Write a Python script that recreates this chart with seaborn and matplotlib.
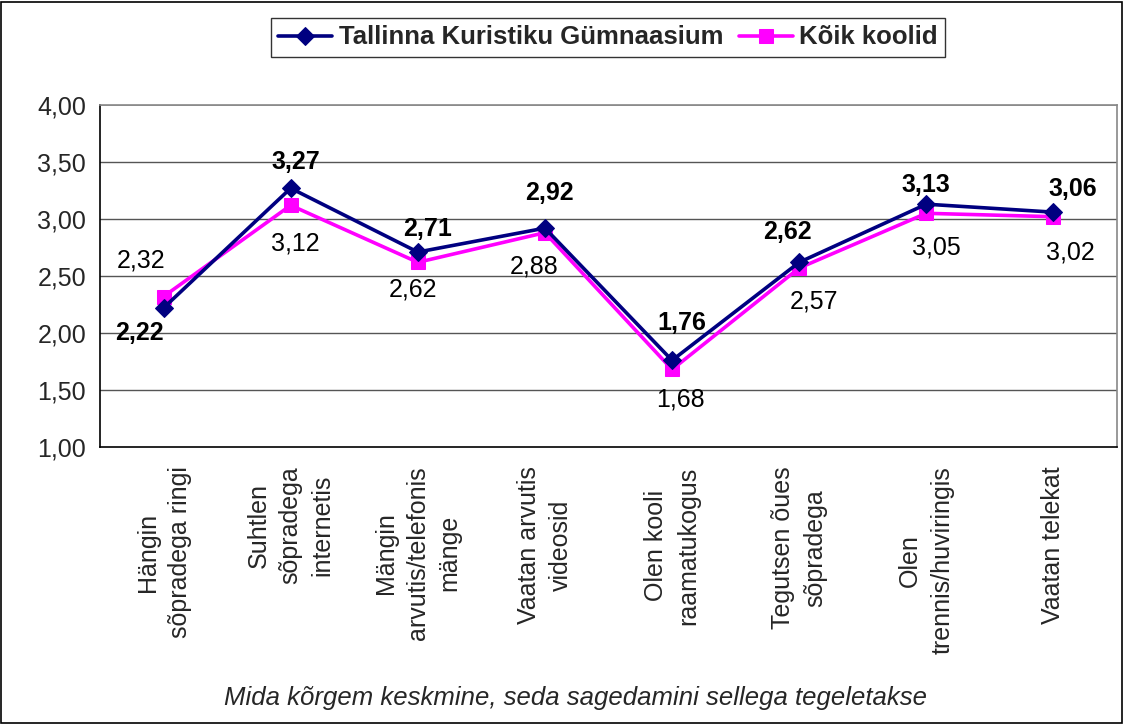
import matplotlib
matplotlib.use("Agg")
import matplotlib.pyplot as plt
import seaborn as sns
import pandas as pd
from matplotlib.patches import Rectangle

categories = [
    "Hängin\nsõpradega ringi",
    "Suhtlen\nsõpradega\ninternetis",
    "Mängin\narvutis/telefonis\nmänge",
    "Vaatan arvutis\nvideosid",
    "Olen kooli\nraamatukogus",
    "Tegutsen õues\nsõpradega",
    "Olen\ntrennis/huviringis",
    "Vaatan telekat",
]
school_values = [2.22, 3.27, 2.71, 2.92, 1.76, 2.62, 3.13, 3.06]
all_values = [2.32, 3.12, 2.62, 2.88, 1.68, 2.57, 3.05, 3.02]
series_names = ["Tallinna Kuristiku Gümnaasium", "Kõik koolid"]
y_ticks = [1.0, 1.5, 2.0, 2.5, 3.0, 3.5, 4.0]
footer = "Mida kõrgem keskmine, seda sagedamini sellega tegeletakse"

# label offsets in pixels (dx, dy), dy positive = downward (style only)
school_off = [(-24, 25), (5, -26), (10, -23), (5, -35), (10, -37), (-12, -30), (0, -19), (19, -23)]
all_off = [(-23, -36), (5, 38), (-5, 27), (-11, 34), (8, 30), (15, 33), (10, 34), (17, 36)]

sns.set_theme(style="white")
plt.rcParams["font.family"] = ["Liberation Sans", "DejaVu Sans"]

navy = "#000080"
magenta = "#FF00FF"
FS = 18

fig = plt.figure(figsize=(11.24, 7.24), dpi=100)
ax = fig.add_axes([100 / 1124, 1 - 447 / 724, 1017 / 1124, 342 / 724])

df = pd.DataFrame({
    "x": list(range(len(categories))) * 2,
    "value": school_values + all_values,
    "series": [series_names[0]] * len(categories) + [series_names[1]] * len(categories),
})

ax.set_axisbelow(True)
for yv in y_ticks[1:-1]:
    ax.axhline(yv, color="#555555", lw=1.0, zorder=0)
ax.axhline(y_ticks[-1], color="#888888", lw=1.2, zorder=0)

sns.lineplot(data=df[df.series == series_names[0]], x="x", y="value", ax=ax,
             color=navy, lw=2.6, marker="D", markersize=9, markeredgecolor=navy,
             label=series_names[0], zorder=3)
sns.lineplot(data=df[df.series == series_names[1]], x="x", y="value", ax=ax,
             color=magenta, lw=2.6, marker="s", markersize=9.5, markeredgecolor=magenta,
             label=series_names[1], zorder=2)

def fmt(v):
    return f"{v:.2f}".replace(".", ",")

for i, v in enumerate(school_values):
    dx, dy = school_off[i]
    ax.annotate(fmt(v), (i, v), xytext=(dx * 0.72, -dy * 0.72), textcoords="offset points",
                ha="center", va="center", fontsize=FS, fontweight="bold", color="black", zorder=5)
for i, v in enumerate(all_values):
    dx, dy = all_off[i]
    ax.annotate(fmt(v), (i, v), xytext=(dx * 0.72, -dy * 0.72), textcoords="offset points",
                ha="center", va="center", fontsize=FS, color="black", zorder=5)

ax.set_xlim(-0.5, len(categories) - 0.5)
ax.set_ylim(1.0, 4.0)
ax.set_yticks(y_ticks)
ax.set_yticklabels([fmt(t) for t in y_ticks], fontsize=FS)
ax.set_xticks(range(len(categories)))
ax.set_xticklabels(categories, rotation=90, fontsize=FS, va="top", ha="center",
                   multialignment="center", linespacing=1.42)
ax.set_xticks([i - 0.5 for i in range(len(categories) + 1)], minor=True)
ax.tick_params(axis="x", which="major", length=0, pad=14)
ax.tick_params(axis="x", which="minor", length=6, width=1, color="black", direction="out")
ax.tick_params(axis="y", which="major", length=6, width=1, color="black", direction="out", pad=4)
ax.set_xlabel("")
ax.set_ylabel("")
for s in ["left", "bottom"]:
    ax.spines[s].set_color("black")
    ax.spines[s].set_linewidth(1.2)
for s in ["top", "right"]:
    ax.spines[s].set_color("#888888")
    ax.spines[s].set_linewidth(1.2)

leg = ax.legend(loc="center", bbox_to_anchor=(608 / 1124, 1 - 37.5 / 724),
                bbox_transform=fig.transFigure, ncol=2, frameon=True, fancybox=False,
                prop={"weight": "bold", "size": 18.5}, handlelength=2.1,
                columnspacing=0.6, handletextpad=0.25, borderpad=0.3, borderaxespad=0)
leg.get_frame().set_edgecolor("black")
leg.get_frame().set_linewidth(1.0)

fig.text(575 / 1124, 1 - 698 / 724, footer, ha="center", va="center", fontsize=18.5, style="italic")

fig.patches.append(Rectangle((1 / 1124, 1 / 724), 1 - 3 / 1124, 1 - 3 / 724,
                             transform=fig.transFigure, fill=False, edgecolor="black", lw=1.2))

fig.savefig("out.png", dpi=100)
